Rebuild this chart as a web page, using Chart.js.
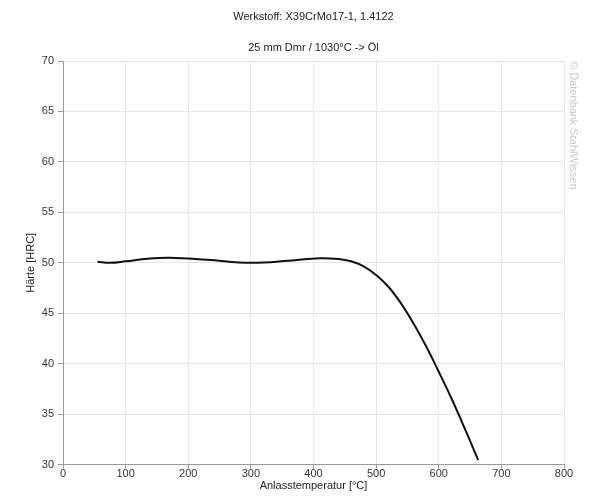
<!DOCTYPE html>
<html>
<head>
<meta charset="utf-8">
<script src="https://cdn.jsdelivr.net/npm/chart.js@4"></script>
<style>
  html, body { margin: 0; padding: 0; background: #fff; }
  #wrap { width: 605px; height: 502px; }
</style>
</head>
<body>
<div id="wrap"><canvas id="haerteChart" width="605" height="502"></canvas></div>
<script>
// Anlasskurve, Werte
const temperaturen = [55, 75, 100, 135, 170, 230, 300, 360, 410, 440, 460, 480, 500, 520, 540, 560, 580, 600, 620, 640, 663];
const haerte = [50.1, 50.0, 50.15, 50.4, 50.5, 50.3, 50.0, 50.2, 50.45, 50.38, 50.15, 49.65, 48.8, 47.6, 45.95, 43.95, 41.7, 39.2, 36.6, 33.8, 30.45];
const xTicks = [0, 100, 200, 300, 400, 500, 600, 700, 800];
const yTicks = [30, 35, 40, 45, 50, 55, 60, 65, 70];

const titel = 'Werkstoff: X39CrMo17-1, 1.4122';
const untertitel = '25 mm Dmr / 1030°C -> Öl';
const wasserzeichen = '© Datenbank StahlWissen';

const schrift = "'Liberation Sans', Arial, sans-serif";

// Titel mittig ueber der Zeichenflaeche, Wasserzeichen rechts senkrecht
const beschriftungPlugin = {
  id: 'beschriftung',
  afterDraw(chart) {
    const ctx = chart.ctx;
    const area = chart.chartArea;
    const mitte = (area.left + area.right) / 2;
    ctx.save();
    ctx.font = '11px ' + schrift;
    ctx.fillStyle = '#222';
    ctx.textAlign = 'center';
    ctx.textBaseline = 'middle';
    ctx.fillText(titel, mitte, 17);
    ctx.fillText(untertitel, mitte, 48);

    ctx.translate(area.right + 4, area.top);
    ctx.rotate(Math.PI / 2);
    ctx.fillStyle = '#c8c8c8';
    ctx.textAlign = 'left';
    ctx.textBaseline = 'bottom';
    ctx.fillText(wasserzeichen, 0, 0);
    ctx.restore();
  }
};

new Chart(document.getElementById('haerteChart'), {
  type: 'line',
  data: {
    datasets: [{
      data: temperaturen.map((t, i) => ({ x: t, y: haerte[i] })),
      borderColor: '#111',
      borderWidth: 2,
      pointRadius: 0,
      tension: 0.4,
      fill: false
    }]
  },
  options: {
    responsive: false,
    animation: false,
    layout: { padding: { left: 24, right: 41, top: 61, bottom: 9 } },
    plugins: {
      legend: { display: false },
      tooltip: { enabled: false },
      title: { display: false }
    },
    scales: {
      x: {
        type: 'linear',
        min: 0,
        max: 800,
        afterBuildTicks: axis => { axis.ticks = xTicks.map(v => ({ value: v })); },
        ticks: { color: '#333', font: { family: schrift, size: 11 }, padding: -1 },
        grid: { color: '#e6e6e6', tickColor: '#999', tickLength: 4 },
        border: { color: '#999' },
        title: {
          display: true,
          text: 'Anlasstemperatur [°C]',
          color: '#222',
          font: { family: schrift, size: 11 },
          padding: { top: 0, bottom: 0 }
        }
      },
      y: {
        min: 30,
        max: 70,
        afterBuildTicks: axis => { axis.ticks = yTicks.map(v => ({ value: v })); },
        afterFit: axis => { axis.width = 39; },
        ticks: { color: '#333', font: { family: schrift, size: 11 }, padding: 4 },
        grid: { color: '#e6e6e6', tickColor: '#999', tickLength: 5 },
        border: { color: '#999' },
        title: {
          display: true,
          text: 'Härte [HRC]',
          color: '#222',
          font: { family: schrift, size: 11 },
          padding: { top: 0, bottom: 0 }
        }
      }
    }
  },
  plugins: [beschriftungPlugin]
});
</script>
</body>
</html>
